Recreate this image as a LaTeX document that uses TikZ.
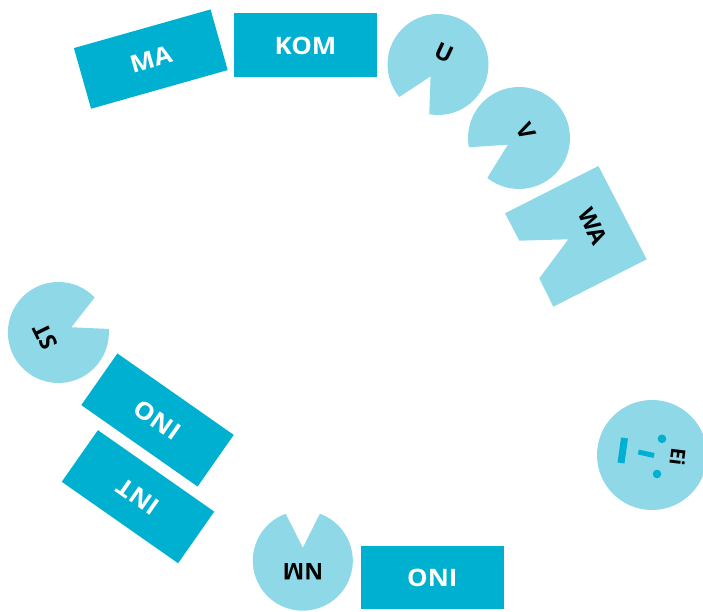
\documentclass[tikz,border=0pt]{standalone}
\usepackage{fontspec}
\newfontfamily\lblfont{Open Sans}[FakeStretch=1.08]
\newfontfamily\blkfont{Open Sans}
\usetikzlibrary{calc}
\definecolor{dk}{HTML}{00B0D0}
\definecolor{lt}{HTML}{8FD8E8}
\tikzset{
  rectbox/.style={fill=dk, draw=none, text=white, minimum width=142pt, minimum height=63pt, inner sep=0pt, font=\lblfont\bfseries\fontsize{24}{24}\selectfont},
  darklbl/.style={text=black, inner sep=0pt, font=\blkfont\bfseries\fontsize{23}{23}\selectfont},
  pac/.style={fill=lt, draw=none}
}
\begin{document}
\begin{tikzpicture}[x=1pt,y=1pt]
\useasboundingbox (0,0) rectangle (703,612);
\clip (0,0) rectangle (703,612);
% rectangles
\node[rectbox, rotate=15.8] (ma) at (150.8,552.9) {MA};
\node[rectbox, minimum width=143pt, minimum height=64pt] (kom) at (305.5,566.5) {KOM};
\node[rectbox, rotate=-35] (oni1) at (157.5,192) {ONI};
\node[rectbox, rotate=145] (int) at (138,115.3) {INT};
\node[rectbox, minimum width=143pt] (oni2) at (432.3,34) {ONI};
% pacman U
\coordinate (cu) at (438,547.5);
\fill[pac] ($(cu)+(-100:50.5)$) arc[start angle=-100, end angle=220, radius=50.5] -- ($(cu)+(-122:14)$) -- cycle;
\node[darklbl, rotate=-25] (u) at (444,559) {U};
% pacman V
\coordinate (cv) at (519,474);
\fill[pac] ($(cv)+(-128.5:51)$) arc[start angle=-128.5, end angle=190.5, radius=51] -- ($(cv)+(-149:13)$) -- cycle;
\node[darklbl, rotate=-62] (v) at (526.5,480.5) {V};
% WA notched square
\fill[pac] (505,398.7) -- (598.4,446) -- (646.7,352.7) -- (553.3,305.3) -- (539.3,333.7) -- (568.3,372.7) -- (519.3,371.3) -- cycle;
\node[darklbl, rotate=-63] (wa) at (593,385.5) {WA};
% pacman ST
\coordinate (cst) at (58.4,279.5);
\fill[pac] ($(cst)+(44:50.5)$) arc[start angle=44, end angle=364, radius=50.5] -- ($(cst)+(22:14)$) -- cycle;
\node[darklbl, rotate=116] (st) at (45,275.5) {ST};
% pacman NM
\coordinate (cnm) at (302.8,51.3);
\fill[pac] ($(cnm)+(110:50)$) arc[start angle=110, end angle=430, radius=50] -- ($(cnm)+(90:13)$) -- cycle;
\node[darklbl, rotate=180] (nm) at (303,40.5) {NM};
% Ei circle with face
\fill[pac] (652,157) circle[radius=55];
\draw[dk, line width=7pt] (624.5,174) -- (621,149);
\draw[dk, line width=5pt] (638.3,160) -- (654,156.5);
\fill[dk] (662,173.2) circle[radius=4.3];
\fill[dk] (657,138) circle[radius=4.3];
\node[darklbl, rotate=-97, font=\blkfont\bfseries\fontsize{20}{20}\selectfont] (ei) at (678,155) {Ei};
\end{tikzpicture}
\end{document}
